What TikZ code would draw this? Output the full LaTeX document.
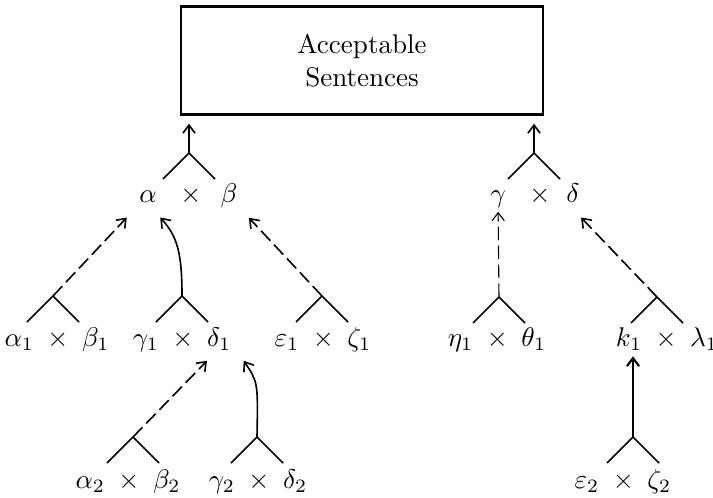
\documentclass[tikz,border=0pt]{standalone}
\usepackage{amsmath,amssymb}
\usetikzlibrary{arrows.meta}

\begin{document}
\begin{tikzpicture}[
  x=0.37pt, y=-0.37pt, line width=0.6pt, >={Straight Barb[length=3pt,width=4.5pt]},
  box/.style={draw, line width=0.8pt, align=center, minimum width=134pt, minimum height=40pt},
  lab/.style={anchor=base, inner sep=1pt}, dsh/.style={dash pattern=on 5pt off 2pt}]
\useasboundingbox (0,0) rectangle (713,497);
\node[box] (acc) at (362,60.5) {Acceptable\\Sentences};
% top products
\node[lab] (al) at (148,203) {$\alpha$};
\node[lab] (x1) at (191,203) {$\times$};
\node[lab] (be) at (229,203) {$\beta$};
\node[lab] (ga) at (498,203) {$\gamma$};
\node[lab] (x2) at (540,203) {$\times$};
\node[lab] (de) at (573,203) {$\delta$};
% second row
\node[lab] (ab1) at (57,346) {$\alpha_1 \;\times\; \beta_1$};
\node[lab] (gd1) at (182,346) {$\gamma_1 \;\times\; \delta_1$};
\node[lab] (ez1) at (323,346) {$\varepsilon_1 \;\times\; \zeta_1$};
\node[lab] (ht1) at (497,346) {$\eta_1 \;\times\; \theta_1$};
\node[lab] (kl1) at (667,346) {$k_1 \;\times\; \lambda_1$};
% third row
\node[lab] (ab2) at (128,488) {$\alpha_2 \;\times\; \beta_2$};
\node[lab] (gd2) at (258,488) {$\gamma_2 \;\times\; \delta_2$};
\node[lab] (ez2) at (623,488) {$\varepsilon_2 \;\times\; \zeta_2$};
% apexes of the forks
\coordinate (t1) at (189,153); \coordinate (t2) at (534,153);
\coordinate (a1) at (53,296); \coordinate (g1) at (182,296); \coordinate (e1) at (322,296);
\coordinate (h1) at (499,297); \coordinate (k1) at (657,297);
\coordinate (a2) at (133,437); \coordinate (g2) at (257,437); \coordinate (e2) at (633,437);
\foreach \p in {t1,t2,a1,g1,e1,h1,k1,a2,g2,e2}
  \draw (\p) -- ++(-26,26) (\p) -- ++(26,26);
\draw[->] (t1) -- ([yshift=-3pt]acc.south -| t1);
\draw[->] (t2) -- ([yshift=-3pt]acc.south -| t2);
\draw[->, dsh] (a1) -- ([shift={(-9,11)}]al.south west);
\draw[->] (g1) .. controls (182,252) and (177,236) .. ([shift={(0,11)}]al.south east);
\draw[->, dsh] (e1) -- ([shift={(8,6)}]be.south east);
\draw[->, dsh, line width=0.4pt] (h1) -- (ga);
\draw[->, dsh] (k1) -- ([shift={(-2,11)}]de.south east);
\draw[->, dsh] (a2) -- ([shift={(25,6)}]gd1.south);
\draw[->] (g2) .. controls (258,382) .. ([shift={(9,6)}]gd1.south east);
\draw[->, line width=0.8pt] (e2) -- ([yshift=-1pt]e2 |- kl1.south);
\end{tikzpicture}
\end{document}
